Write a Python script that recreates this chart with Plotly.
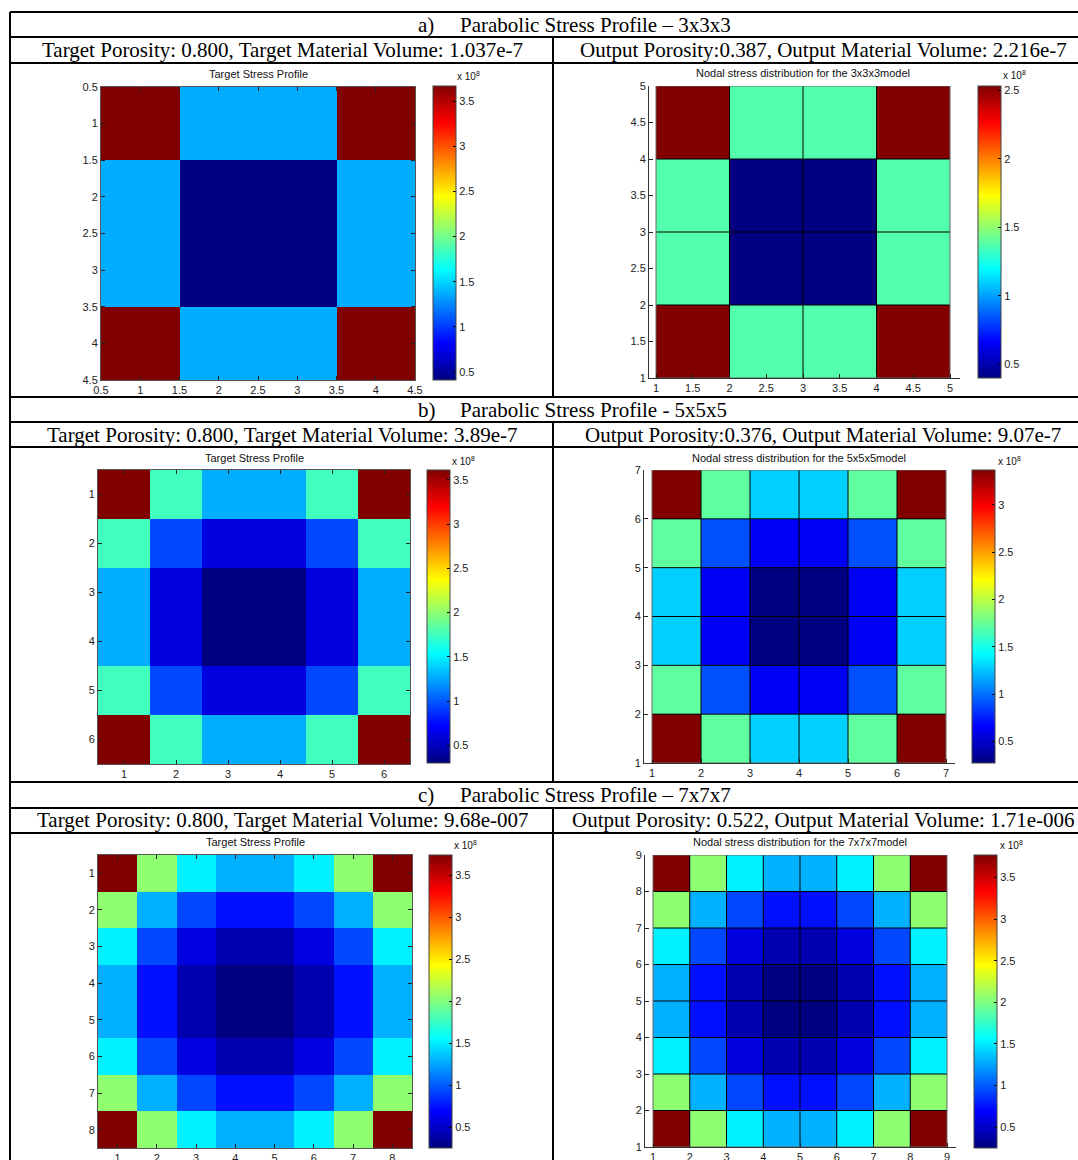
import plotly.graph_objects as go

W, H = 1078, 1160


def px(x):
    return x / W


def py(y):
    return 1 - y / H


# ---------------- data (stress, units of 1e8) ----------------
target_3 = [
    [3.67, 1.37, 1.37, 3.67],
    [1.37, 0.41, 0.41, 1.37],
    [1.37, 0.41, 0.41, 1.37],
    [3.67, 1.37, 1.37, 3.67],
]
output_3 = [
    [2.53, 1.37, 1.37, 2.53],
    [1.37, 0.40, 0.40, 1.37],
    [1.37, 0.40, 0.40, 1.37],
    [2.53, 1.37, 1.37, 2.53],
]
target_5 = [
    [3.61, 1.75, 1.28, 1.28, 1.75, 3.61],
    [1.75, 0.95, 0.61, 0.61, 0.95, 1.75],
    [1.28, 0.61, 0.30, 0.30, 0.61, 1.28],
    [1.28, 0.61, 0.30, 0.30, 0.61, 1.28],
    [1.75, 0.95, 0.61, 0.61, 0.95, 1.75],
    [3.61, 1.75, 1.28, 1.28, 1.75, 3.61],
]
output_5 = [
    [3.37, 1.72, 1.29, 1.29, 1.72, 3.37],
    [1.72, 0.90, 0.63, 0.63, 0.90, 1.72],
    [1.29, 0.63, 0.27, 0.27, 0.63, 1.29],
    [1.29, 0.63, 0.27, 0.27, 0.63, 1.29],
    [1.72, 0.90, 0.63, 0.63, 0.90, 1.72],
    [3.37, 1.72, 1.29, 1.29, 1.72, 3.37],
]
target_7 = [
    [3.74, 2.05, 1.51, 1.29, 1.29, 1.51, 2.05, 3.74],
    [2.05, 1.29, 0.93, 0.74, 0.74, 0.93, 1.29, 2.05],
    [1.51, 0.93, 0.58, 0.41, 0.41, 0.58, 0.93, 1.51],
    [1.29, 0.74, 0.41, 0.25, 0.25, 0.41, 0.74, 1.29],
    [1.29, 0.74, 0.41, 0.25, 0.25, 0.41, 0.74, 1.29],
    [1.51, 0.93, 0.58, 0.41, 0.41, 0.58, 0.93, 1.51],
    [2.05, 1.29, 0.93, 0.74, 0.74, 0.93, 1.29, 2.05],
    [3.74, 2.05, 1.51, 1.29, 1.29, 1.51, 2.05, 3.74],
]
output_7 = [
    [3.77, 2.06, 1.52, 1.30, 1.30, 1.52, 2.06, 3.77],
    [2.06, 1.30, 0.94, 0.74, 0.74, 0.94, 1.30, 2.06],
    [1.52, 0.94, 0.58, 0.42, 0.42, 0.58, 0.94, 1.52],
    [1.30, 0.74, 0.42, 0.25, 0.25, 0.42, 0.74, 1.30],
    [1.30, 0.74, 0.42, 0.25, 0.25, 0.42, 0.74, 1.30],
    [1.52, 0.94, 0.58, 0.42, 0.42, 0.58, 0.94, 1.52],
    [2.06, 1.30, 0.94, 0.74, 0.74, 0.94, 1.30, 2.06],
    [3.77, 2.06, 1.52, 1.30, 1.30, 1.52, 2.06, 3.77],
]

colorbar_ticks = [0.5, 1, 1.5, 2, 2.5, 3, 3.5]
colorbar_ticktext = ["0.5", "1", "1.5", "2", "2.5", "3", "3.5"]

row_titles = [
    ("a)", "Parabolic Stress Profile \u2013 3x3x3"),
    ("b)", "Parabolic Stress Profile - 5x5x5"),
    ("c)", "Parabolic Stress Profile \u2013 7x7x7"),
]
target_captions = [
    "Target Porosity: 0.800, Target Material Volume: 1.037e-7",
    "Target Porosity: 0.800, Target Material Volume: 3.89e-7",
    "Target Porosity: 0.800, Target Material Volume: 9.68e-007",
]
output_captions = [
    "Output Porosity:0.387, Output Material Volume: 2.216e-7",
    "Output Porosity:0.376, Output Material Volume: 9.07e-7",
    "Output Porosity: 0.522, Output Material Volume: 1.71e-006",
]
output_titles = [
    "Nodal stress distribution for the 3x3x3model",
    "Nodal stress distribution for the 5x5x5model",
    "Nodal stress distribution for the 7x7x7model",
]

# ---------------- style / layout ----------------
JET = [
    [0.0, "#000080"], [0.125, "#0000FF"], [0.375, "#00FFFF"],
    [0.625, "#FFFF00"], [0.875, "#FF0000"], [1.0, "#800000"],
]
SANS = "Liberation Sans, Arial, sans-serif"
SERIF = "Liberation Serif, Times New Roman, serif"
TICKFONT = dict(family=SANS, size=11, color="#222")
SERIF_SIZE = 21

# pixel boxes
targets = [
    dict(z=target_3, box=(101, 415, 87, 380), cb=(433, 456, 86, 380),
         tickstep=0.5, title_y=74, x10=(455, 76)),
    dict(z=target_5, box=(98, 410, 470, 764), cb=(427, 450, 470, 763),
         tickstep=1, title_y=458, x10=(450, 461)),
    dict(z=target_7, box=(98, 412, 855, 1148), cb=(429, 452, 855, 1148),
         tickstep=1, title_y=842, x10=(452, 845)),
]
outputs = [
    dict(z=output_3, heat=(656, 950), axis=(649, 960), yb=(86, 378), cb=(978, 1001, 86, 378),
         tickstep=0.5, title_y=73, x10=(1001, 75)),
    dict(z=output_5, heat=(652, 946), axis=(644, 955), yb=(470, 763), cb=(972, 995, 470, 763),
         tickstep=1, title_y=458, x10=(996, 461)),
    dict(z=output_7, heat=(653, 947), axis=(645, 956), yb=(855, 1147), cb=(974, 997, 855, 1148),
         tickstep=1, title_y=842, x10=(998, 845)),
]


def ticklist(lo, hi, step):
    vals = []
    v = lo
    while v <= hi + 1e-9:
        vals.append(round(v, 3))
        v += step
    txt = [("%g" % v) for v in vals]
    return vals, txt


def make_cb(cb):
    l, r, t, b = cb
    return dict(
        x=px(l), xanchor="left", xpad=0, y=py(t), yanchor="top", ypad=0,
        len=(b - t) / H, lenmode="fraction", thickness=r - l, thicknessmode="pixels",
        outlinewidth=1, outlinecolor="#444",
        tickvals=colorbar_ticks, ticktext=colorbar_ticktext,
        ticks="inside", ticklen=3, tickcolor="#000", tickwidth=1,
        tickfont=TICKFONT,
    )


fig = go.Figure()
layout_axes = {}
annotations = []
ax_i = 0

for i in range(3):
    # ---- target plot ----
    t = targets[i]
    ax_i += 1
    n = len(t["z"])
    centers = list(range(1, n + 1))
    xa = "x" if ax_i == 1 else "x%d" % ax_i
    ya = "y" if ax_i == 1 else "y%d" % ax_i
    fig.add_trace(go.Heatmap(
        z=t["z"], x=centers, y=centers, colorscale=JET,
        colorbar=make_cb(t["cb"]), xaxis=xa, yaxis=ya, hoverinfo="skip",
    ))
    l, r, tp, b = t["box"]
    if t["tickstep"] == 0.5:
        tv, tt = ticklist(0.5, n + 0.5, 0.5)
    else:
        tv, tt = ticklist(1, n, 1)
    common = dict(showline=True, linecolor="#555", linewidth=1, mirror="ticks",
                  ticks="inside", ticklen=4, tickcolor="#222", tickvals=tv, ticktext=tt,
                  tickfont=TICKFONT, showgrid=False, zeroline=False, fixedrange=True,
                  automargin=False)
    layout_axes["xaxis" if ax_i == 1 else "xaxis%d" % ax_i] = dict(
        domain=[px(l), px(r)], range=[0.5, n + 0.5], anchor=ya, **common)
    layout_axes["yaxis" if ax_i == 1 else "yaxis%d" % ax_i] = dict(
        domain=[py(b), py(tp)], range=[n + 0.5, 0.5], anchor=xa, **common)
    annotations.append(dict(x=px((l + r) / 2), y=py(t["title_y"]), xref="paper", yref="paper",
                            text="Target Stress Profile", showarrow=False,
                            font=dict(family=SANS, size=11, color="#111"),
                            xanchor="center", yanchor="middle"))
    annotations.append(dict(x=px(t["x10"][0]), y=py(t["x10"][1]), xref="paper", yref="paper",
                            text="x 10<sup>8</sup>", showarrow=False,
                            font=dict(family=SANS, size=10, color="#111"),
                            xanchor="left", yanchor="middle"))

    # ---- output plot ----
    o = outputs[i]
    ax_i += 1
    n = len(o["z"])
    edges = list(range(1, n + 2))
    xa = "x%d" % ax_i
    ya = "y%d" % ax_i
    fig.add_trace(go.Heatmap(
        z=o["z"], x=edges, y=edges, colorscale=JET,
        colorbar=make_cb(o["cb"]), xaxis=xa, yaxis=ya, hoverinfo="skip",
    ))
    gx, gy = [], []
    for e in edges[1:-1]:
        gx += [e, e, None]
        gy += [edges[0], edges[-1], None]
        gx += [edges[0], edges[-1], None]
        gy += [e, e, None]
    fig.add_trace(go.Scatter(x=gx, y=gy, mode="lines", line=dict(color="#000", width=1),
                             xaxis=xa, yaxis=ya, hoverinfo="skip", showlegend=False))
    bx = [edges[0], edges[-1], edges[-1], edges[0], edges[0]]
    by = [edges[0], edges[0], edges[-1], edges[-1], edges[0]]
    fig.add_trace(go.Scatter(x=bx, y=by, mode="lines", line=dict(color="#666", width=1),
                             xaxis=xa, yaxis=ya, hoverinfo="skip", showlegend=False))
    hl, hr = o["heat"]
    al, ar = o["axis"]
    ppu = (hr - hl) / n
    xr = [edges[0] - (hl - al) / ppu, edges[-1] + (ar - hr) / ppu]
    tv, tt = ticklist(1, n + 1, o["tickstep"])
    common = dict(showline=True, linecolor="#333", linewidth=1, mirror=False,
                  ticks="inside", ticklen=4, tickcolor="#222", tickvals=tv, ticktext=tt,
                  tickfont=TICKFONT, showgrid=False, zeroline=False, fixedrange=True,
                  automargin=False)
    yt, yb_ = o["yb"]
    layout_axes["xaxis%d" % ax_i] = dict(domain=[px(al), px(ar)], range=xr, anchor=ya, **common)
    layout_axes["yaxis%d" % ax_i] = dict(domain=[py(yb_), py(yt)], range=[edges[0], edges[-1]],
                                         anchor=xa, **common)
    annotations.append(dict(x=px((hl + hr) / 2), y=py(o["title_y"]), xref="paper", yref="paper",
                            text=output_titles[i], showarrow=False,
                            font=dict(family=SANS, size=11, color="#111"),
                            xanchor="center", yanchor="middle"))
    annotations.append(dict(x=px(o["x10"][0]), y=py(o["x10"][1]), xref="paper", yref="paper",
                            text="x 10<sup>8</sup>", showarrow=False,
                            font=dict(family=SANS, size=10, color="#111"),
                            xanchor="left", yanchor="middle"))

# ---------------- table text ----------------
row_title_y = [25, 410, 795]
caption_y = [50, 435, 820]
for i in range(3):
    annotations.append(dict(x=px(416), y=py(row_title_y[i]), xref="paper", yref="paper",
                            text=row_titles[i][0], showarrow=False,
                            font=dict(family=SERIF, size=SERIF_SIZE, color="#000"),
                            xanchor="left", yanchor="middle"))
    annotations.append(dict(x=px(458), y=py(row_title_y[i]), xref="paper", yref="paper",
                            text=row_titles[i][1], showarrow=False,
                            font=dict(family=SERIF, size=SERIF_SIZE, color="#000"),
                            xanchor="left", yanchor="middle"))
    annotations.append(dict(x=px(282), y=py(caption_y[i]), xref="paper", yref="paper",
                            text=target_captions[i], showarrow=False,
                            font=dict(family=SERIF, size=SERIF_SIZE, color="#000"),
                            xanchor="center", yanchor="middle"))
    annotations.append(dict(x=px(823), y=py(caption_y[i]), xref="paper", yref="paper",
                            text=output_captions[i], showarrow=False,
                            font=dict(family=SERIF, size=SERIF_SIZE, color="#000"),
                            xanchor="center", yanchor="middle"))

# ---------------- table lines ----------------
shapes = []
for yy in [12, 37, 63, 397, 422, 447, 782, 808, 833]:
    shapes.append(dict(type="line", xref="paper", yref="paper", x0=px(10), x1=1,
                       y0=py(yy), y1=py(yy), line=dict(color="#000", width=2)))
shapes.append(dict(type="line", xref="paper", yref="paper", x0=px(10), x1=px(10),
                   y0=py(12), y1=0, line=dict(color="#000", width=2)))
for (y0, y1) in [(37, 397), (422, 782), (808, 1160)]:
    shapes.append(dict(type="line", xref="paper", yref="paper", x0=px(553), x1=px(553),
                       y0=py(y0), y1=py(y1), line=dict(color="#000", width=2)))

fig.update_layout(
    width=W, height=H, margin=dict(l=0, r=0, t=0, b=0, pad=0, autoexpand=False),
    paper_bgcolor="white", plot_bgcolor="white",
    showlegend=False, annotations=annotations, shapes=shapes,
    **layout_axes,
)

fig.write_html(
    "out.html",
    config={"displayModeBar": False},
    post_script="document.body.style.margin='0';document.body.style.padding='0';",
)
